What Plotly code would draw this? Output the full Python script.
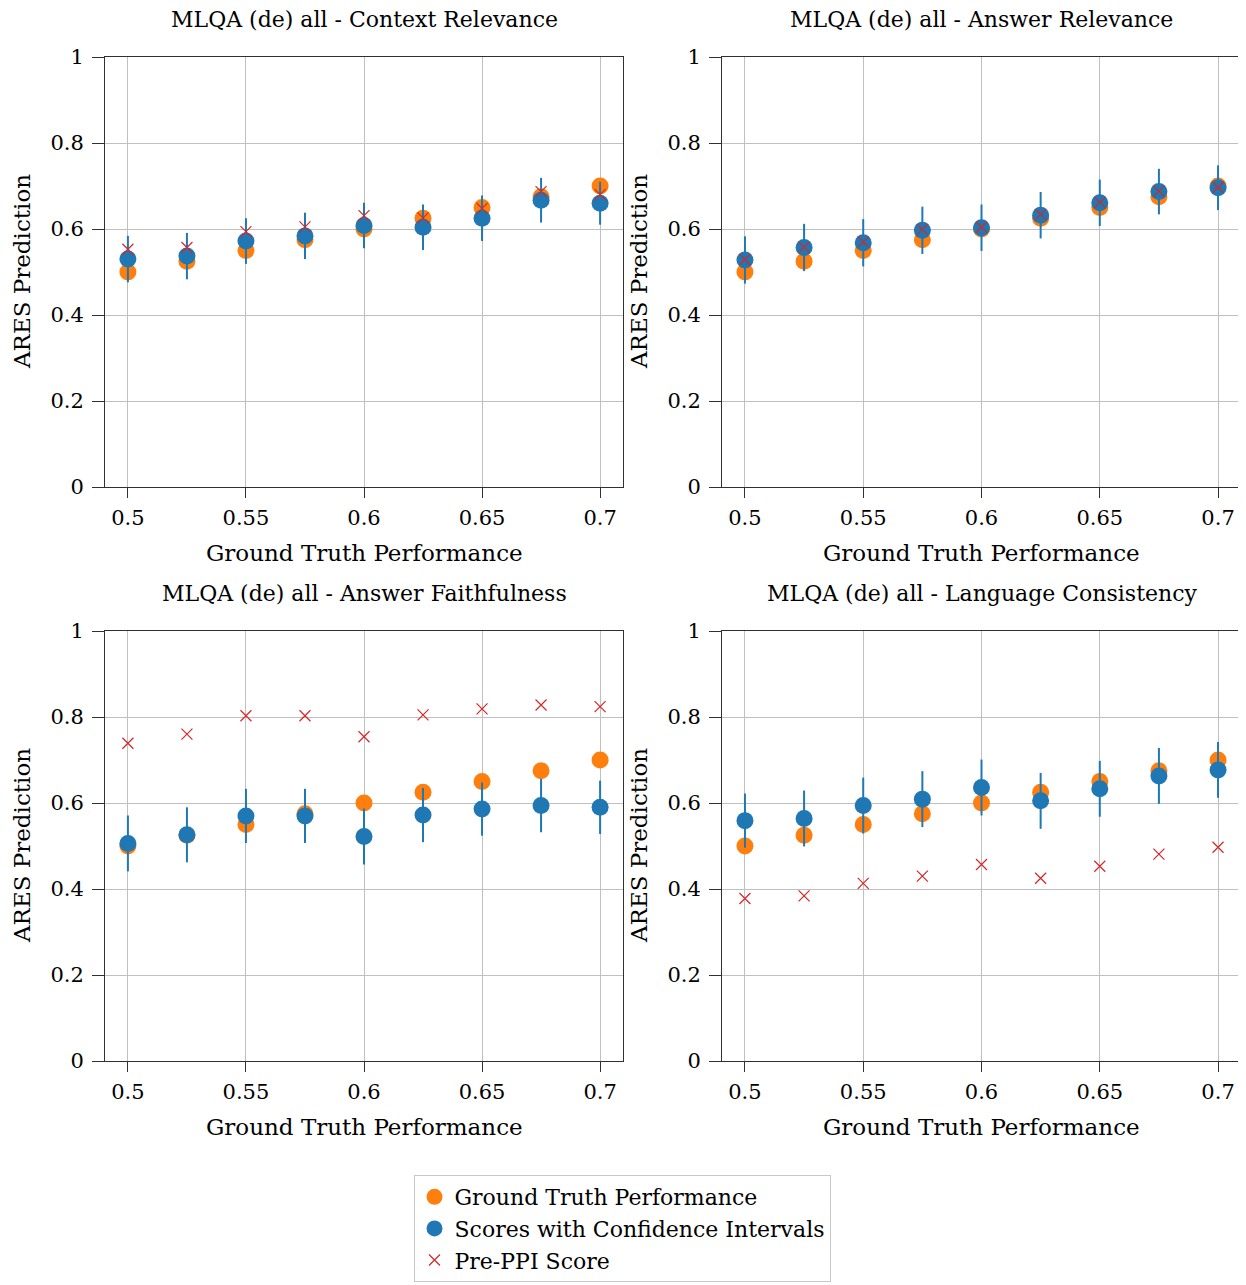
import plotly.graph_objects as go

# ---------------- data ----------------
x_vals = [0.5, 0.525, 0.55, 0.575, 0.6, 0.625, 0.65, 0.675, 0.7]
ground_truth = [0.5, 0.525, 0.55, 0.575, 0.6, 0.625, 0.65, 0.675, 0.7]

titles = [
    "MLQA (de) all - Context Relevance",
    "MLQA (de) all - Answer Relevance",
    "MLQA (de) all - Answer Faithfulness",
    "MLQA (de) all - Language Consistency",
]

scores_context = [0.530, 0.537, 0.572, 0.584, 0.608, 0.604, 0.625, 0.667, 0.660]
ci_context = [0.054, 0.054, 0.053, 0.054, 0.053, 0.053, 0.053, 0.052, 0.050]
preppi_context = [0.553, 0.557, 0.594, 0.605, 0.631, 0.626, 0.648, 0.687, 0.680]

scores_answer = [0.528, 0.557, 0.568, 0.597, 0.603, 0.632, 0.661, 0.687, 0.696]
ci_answer = [0.055, 0.055, 0.055, 0.055, 0.054, 0.054, 0.054, 0.053, 0.052]
preppi_answer = [0.529, 0.558, 0.570, 0.599, 0.604, 0.634, 0.662, 0.688, 0.697]

scores_faith = [0.506, 0.526, 0.570, 0.570, 0.522, 0.572, 0.586, 0.594, 0.590]
ci_faith = [0.065, 0.064, 0.063, 0.063, 0.065, 0.063, 0.062, 0.062, 0.062]
preppi_faith = [0.739, 0.760, 0.803, 0.803, 0.754, 0.805, 0.819, 0.828, 0.824]

scores_lang = [0.559, 0.564, 0.594, 0.609, 0.636, 0.605, 0.633, 0.663, 0.677]
ci_lang = [0.063, 0.065, 0.065, 0.065, 0.065, 0.065, 0.065, 0.065, 0.065]
preppi_lang = [0.378, 0.384, 0.413, 0.430, 0.457, 0.425, 0.453, 0.481, 0.497]

x_tickvals = [0.5, 0.55, 0.6, 0.65, 0.7]
x_ticktext = ["0.5", "0.55", "0.6", "0.65", "0.7"]
y_tickvals = [0, 0.2, 0.4, 0.6, 0.8, 1]
y_ticktext = ["0", "0.2", "0.4", "0.6", "0.8", "1"]

panels = [
    (scores_context, ci_context, preppi_context),
    (scores_answer, ci_answer, preppi_answer),
    (scores_faith, ci_faith, preppi_faith),
    (scores_lang, ci_lang, preppi_lang),
]

# ---------------- layout geometry ----------------
OFF = 8                      # page body offset
W, H = 1246 - OFF, 1285 - OFF
FONT = "DejaVu Serif"
ORANGE = "#ff7f0e"
BLUE = "#1f77b4"
RED = "#d62728"

# pixel boxes in reference coordinates (left, right, top, bottom)
boxes = [
    (105, 623, 57, 487),
    (722, 1241, 57, 487),
    (105, 623, 631, 1061),
    (722, 1241, 631, 1061),
]


def px(xr):
    return (xr - OFF) / W


def py(yr):
    return 1 - (yr - OFF) / H


fig = go.Figure()
layout_axes = {}
annotations = []

for i, ((sc, ci, pp), box) in enumerate(zip(panels, boxes)):
    n = i + 1
    xa = "x" if n == 1 else f"x{n}"
    ya = "y" if n == 1 else f"y{n}"
    showleg = (i == 0)
    fig.add_trace(go.Scatter(
        x=x_vals, y=ground_truth, mode="markers", xaxis=xa, yaxis=ya,
        name="Ground Truth Performance", legendgroup="gt", showlegend=showleg,
        marker=dict(color=ORANGE, size=17, line=dict(width=0)),
    ))
    fig.add_trace(go.Scatter(
        x=x_vals, y=sc, mode="markers", xaxis=xa, yaxis=ya,
        name="Scores with Confidence Intervals", legendgroup="sc", showlegend=showleg,
        marker=dict(color=BLUE, size=17, line=dict(width=0)),
        error_y=dict(type="data", array=ci, visible=True, color=BLUE, thickness=2, width=0),
    ))
    fig.add_trace(go.Scatter(
        x=x_vals, y=pp, mode="markers", xaxis=xa, yaxis=ya,
        name="Pre-PPI Score", legendgroup="pp", showlegend=showleg,
        marker=dict(color=RED, size=11, symbol="x-thin", line=dict(width=1.2, color=RED)),
    ))

    l, r, t, b = box
    axis_common = dict(
        showline=True, linecolor="#303030", linewidth=1, mirror=True,
        showgrid=True, gridcolor="#c0c0c0", gridwidth=1,
        ticks="outside", tickcolor="#303030", tickwidth=1,
        tickfont=dict(family=FONT, size=21, color="black"),
        zeroline=False, automargin=False,
    )
    layout_axes["xaxis" if n == 1 else f"xaxis{n}"] = dict(
        axis_common, domain=[px(l), px(r)], range=[0.4903, 0.7097],
        tickvals=x_tickvals, ticktext=x_ticktext, anchor=ya,
        ticklen=10, ticklabelstandoff=2,
    )
    layout_axes["yaxis" if n == 1 else f"yaxis{n}"] = dict(
        axis_common, domain=[py(b), py(t)], range=[0, 1],
        tickvals=y_tickvals, ticktext=y_ticktext, anchor=xa,
        ticklen=12, ticklabelstandoff=4,
    )

    cxr = (l + r) / 2
    cyr = (t + b) / 2
    # title
    annotations.append(dict(
        text=titles[i], x=px(cxr), y=py(t - 37), xref="paper", yref="paper",
        xanchor="center", yanchor="middle", showarrow=False,
        font=dict(family=FONT, size=22, color="black"),
    ))
    # x label
    annotations.append(dict(
        text="Ground Truth Performance", x=px(cxr), y=py(b + 66), xref="paper", yref="paper",
        xanchor="center", yanchor="middle", showarrow=False,
        font=dict(family=FONT, size=23, color="black"),
    ))
    # y label
    annotations.append(dict(
        text="ARES Prediction", x=px(l - 83), y=py(cyr), xref="paper", yref="paper",
        xanchor="center", yanchor="middle", showarrow=False, textangle=-90,
        font=dict(family=FONT, size=23, color="black"),
    ))

fig.update_layout(
    template="none",
    width=W, height=H,
    margin=dict(l=0, r=0, t=0, b=0, autoexpand=False),
    paper_bgcolor="white", plot_bgcolor="white",
    annotations=annotations,
    showlegend=True,
    legend=dict(
        x=px(622), xanchor="center", y=py(1175), yanchor="top",
        bordercolor="#c8c8c8", borderwidth=1, bgcolor="white",
        font=dict(family=FONT, size=22, color="black"),
        itemsizing="trace", tracegroupgap=0, itemwidth=30,
    ),
    **layout_axes,
)

fig.write_html("out.html")
